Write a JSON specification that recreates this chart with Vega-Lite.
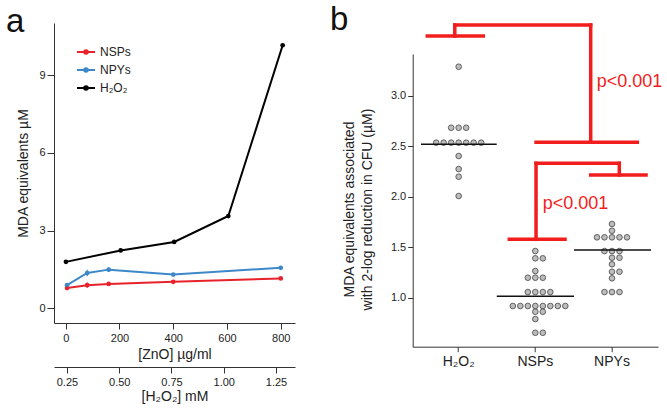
{
  "$schema": "https://vega.github.io/schema/vega-lite/v6.json",
  "padding": {"left": 6, "top": 4, "right": 5, "bottom": 5},
  "background": "white",
  "config": {
    "font": "Liberation Sans",
    "view": {"stroke": null},
    "axis": {"grid": false, "domainColor": "#333333", "tickColor": "#333333", "labelColor": "#222222", "titleColor": "#222222", "labelFont": "Liberation Sans", "titleFont": "Liberation Sans", "titleFontWeight": "normal", "labelFontSize": 11, "titleFontSize": 14, "domainWidth": 1, "tickWidth": 1},
    "title": {"fontWeight": "normal", "font": "Liberation Sans", "color": "#111111"}
  },
  "bounds": "flush",
  "spacing": 117.7,
  "hconcat": [
    {
      "width": 241,
      "height": 300,
      "title": {"text": "a", "anchor": "start", "frame": "group", "fontSize": 33, "offset": 0, "dx": -48, "dy": 42, "baseline": "alphabetic"},
      "layer": [
        {
          "data": {"values": [
            {"series": "NSPs", "zno": 5, "mda": 0.78, "lo": 0.69, "hi": 0.87},
            {"series": "NSPs", "zno": 80, "mda": 0.89, "lo": 0.79, "hi": 0.99},
            {"series": "NSPs", "zno": 160, "mda": 0.94, "lo": 0.9, "hi": 0.98},
            {"series": "NSPs", "zno": 400, "mda": 1.02, "lo": 0.99, "hi": 1.05},
            {"series": "NSPs", "zno": 800, "mda": 1.15, "lo": 1.1, "hi": 1.2},
            {"series": "NPYs", "zno": 5, "mda": 0.89, "lo": 0.84, "hi": 0.94},
            {"series": "NPYs", "zno": 80, "mda": 1.36, "lo": 1.23, "hi": 1.49},
            {"series": "NPYs", "zno": 160, "mda": 1.49, "lo": 1.41, "hi": 1.57},
            {"series": "NPYs", "zno": 400, "mda": 1.3, "lo": 1.27, "hi": 1.33},
            {"series": "NPYs", "zno": 800, "mda": 1.56, "lo": 1.53, "hi": 1.59}
          ]},
          "encoding": {
            "x": {"field": "zno", "type": "quantitative", "scale": {"domain": [-43.5, 853], "nice": false, "zero": false}, "axis": {"orient": "bottom", "values": [0, 200, 400, 600, 800], "title": "[ZnO] µg/ml", "tickSize": 6, "labelPadding": 3, "titlePadding": 4}},
            "y": {"field": "mda", "type": "quantitative", "scale": {"domain": [-0.57, 11.01], "nice": false, "zero": false}, "axis": {"values": [0, 3, 6, 9], "title": "MDA equivalents µM", "tickSize": 7, "labelPadding": 2, "titlePadding": 8}},
            "color": {"field": "series", "type": "nominal", "scale": {"domain": ["NSPs", "NPYs", "H₂O₂"], "range": ["#e8222b", "#3d88c8", "#000000"]}, "legend": {"title": null, "orient": "none", "legendX": 22, "legendY": 19, "symbolType": "M-1,0L1,0M-0.2,0A0.2,0.2,0,1,1,0.2,0A0.2,0.2,0,1,1,-0.2,0", "symbolSize": 324, "symbolStrokeWidth": 2, "labelFontSize": 12, "labelOffset": 4, "rowPadding": 2, "labelFont": "Liberation Sans", "labelColor": "#222222"}}
          },
          "layer": [
            {"mark": {"type": "line", "strokeWidth": 2}},
            {"mark": {"type": "point", "filled": true, "size": 22, "opacity": 1}},
            {"transform": [{"filter": "isValid(datum.lo)"}], "mark": {"type": "rule", "strokeWidth": 1.2}, "encoding": {"y": {"field": "lo", "type": "quantitative"}, "y2": {"field": "hi"}}}
          ]
        },
        {
          "data": {"values": [
            {"series": "H₂O₂", "h2o2": 0.245, "mda": 1.79, "lo": 1.75, "hi": 1.83},
            {"series": "H₂O₂", "h2o2": 0.507, "mda": 2.23, "lo": 2.19, "hi": 2.27},
            {"series": "H₂O₂", "h2o2": 0.763, "mda": 2.56, "lo": 2.52, "hi": 2.6},
            {"series": "H₂O₂", "h2o2": 1.022, "mda": 3.56, "lo": 3.47, "hi": 3.65},
            {"series": "H₂O₂", "h2o2": 1.282, "mda": 10.15, "lo": 10.1, "hi": 10.2}
          ]},
          "encoding": {
            "x": {"field": "h2o2", "type": "quantitative", "scale": {"domain": [0.188, 1.341], "nice": false, "zero": false}, "axis": {"orient": "bottom", "offset": 44, "values": [0.25, 0.5, 0.75, 1, 1.25], "format": ".2f", "title": "[H₂O₂] mM", "tickSize": 6, "labelPadding": 3, "titlePadding": 2}},
            "y": {"field": "mda", "type": "quantitative"},
            "color": {"field": "series", "type": "nominal"}
          },
          "layer": [
            {"mark": {"type": "line", "strokeWidth": 2}},
            {"mark": {"type": "point", "filled": true, "size": 22, "opacity": 1}},
            {"mark": {"type": "rule", "strokeWidth": 1.2}, "encoding": {"y": {"field": "lo", "type": "quantitative"}, "y2": {"field": "hi"}}}
          ]
        }
      ],
      "resolve": {"scale": {"x": "independent"}, "axis": {"x": "independent"}}
    },
    {
      "width": 245.3,
      "height": 323.7,
      "title": {"text": "b", "anchor": "start", "frame": "group", "fontSize": 33, "offset": 0, "dx": -82.7, "dy": 40.6, "baseline": "alphabetic"},
      "layer": [
        {
          "data": {"values": [
            {"grp": "H₂O₂", "s": 0, "v": 3.287},
            {"grp": "H₂O₂", "s": -1, "v": 2.683}, {"grp": "H₂O₂", "s": 0, "v": 2.683}, {"grp": "H₂O₂", "s": 1, "v": 2.683},
            {"grp": "H₂O₂", "s": -3, "v": 2.535}, {"grp": "H₂O₂", "s": -2, "v": 2.535}, {"grp": "H₂O₂", "s": -1, "v": 2.535}, {"grp": "H₂O₂", "s": 0, "v": 2.535}, {"grp": "H₂O₂", "s": 1, "v": 2.535}, {"grp": "H₂O₂", "s": 2, "v": 2.535}, {"grp": "H₂O₂", "s": 3, "v": 2.535},
            {"grp": "H₂O₂", "s": 0, "v": 2.403},
            {"grp": "H₂O₂", "s": 0, "v": 2.274},
            {"grp": "H₂O₂", "s": 0, "v": 2.198},
            {"grp": "H₂O₂", "s": 0, "v": 2.007},
            {"grp": "NSPs", "s": 0, "v": 1.462},
            {"grp": "NSPs", "s": 0, "v": 1.39}, {"grp": "NSPs", "s": 1, "v": 1.39},
            {"grp": "NSPs", "s": 0, "v": 1.264},
            {"grp": "NSPs", "s": -1, "v": 1.198}, {"grp": "NSPs", "s": 0, "v": 1.198}, {"grp": "NSPs", "s": 1, "v": 1.198},
            {"grp": "NSPs", "s": -1, "v": 1.056}, {"grp": "NSPs", "s": 0, "v": 1.056}, {"grp": "NSPs", "s": 1, "v": 1.056}, {"grp": "NSPs", "s": 2, "v": 1.056},
            {"grp": "NSPs", "s": -3, "v": 0.918}, {"grp": "NSPs", "s": -2, "v": 0.918}, {"grp": "NSPs", "s": -1, "v": 0.918}, {"grp": "NSPs", "s": 0, "v": 0.918}, {"grp": "NSPs", "s": 1, "v": 0.918}, {"grp": "NSPs", "s": 2, "v": 0.918}, {"grp": "NSPs", "s": 3, "v": 0.918}, {"grp": "NSPs", "s": 4, "v": 0.918},
            {"grp": "NSPs", "s": 0, "v": 0.861}, {"grp": "NSPs", "s": 1, "v": 0.861},
            {"grp": "NSPs", "s": 0, "v": 0.789},
            {"grp": "NSPs", "s": 0, "v": 0.653}, {"grp": "NSPs", "s": 1, "v": 0.653},
            {"grp": "NPYs", "s": 0, "v": 1.73},
            {"grp": "NPYs", "s": 0, "v": 1.663},
            {"grp": "NPYs", "s": -2, "v": 1.598}, {"grp": "NPYs", "s": -1, "v": 1.598}, {"grp": "NPYs", "s": 0, "v": 1.598}, {"grp": "NPYs", "s": 1, "v": 1.598}, {"grp": "NPYs", "s": 2, "v": 1.598},
            {"grp": "NPYs", "s": -1, "v": 1.462}, {"grp": "NPYs", "s": 0, "v": 1.462}, {"grp": "NPYs", "s": 1, "v": 1.462},
            {"grp": "NPYs", "s": 0, "v": 1.396}, {"grp": "NPYs", "s": 1, "v": 1.396},
            {"grp": "NPYs", "s": 0, "v": 1.331},
            {"grp": "NPYs", "s": 0, "v": 1.257}, {"grp": "NPYs", "s": 1, "v": 1.257},
            {"grp": "NPYs", "s": 0, "v": 1.192},
            {"grp": "NPYs", "s": -1, "v": 1.056}, {"grp": "NPYs", "s": 0, "v": 1.056}, {"grp": "NPYs", "s": 1, "v": 1.056}
          ]},
          "mark": {"type": "circle", "size": 32, "fill": "#bdbdbd", "stroke": "#444444", "strokeWidth": 0.8, "opacity": 1},
          "encoding": {
            "x": {"field": "grp", "type": "nominal", "sort": null, "scale": {"type": "band", "domain": ["H₂O₂", "NSPs", "NPYs"], "paddingInner": 0, "paddingOuter": 0.1}, "axis": {"title": null, "labelAngle": 0, "tickSize": 5, "labelFontSize": 14, "labelPadding": 3}},
            "xOffset": {"field": "s", "type": "quantitative", "scale": {"domain": [-4, 4], "range": [8.3, 68.3]}},
            "y": {"field": "v", "type": "quantitative", "scale": {"domain": [0.515, 3.413], "range": [323.7, 31], "nice": false, "zero": false}, "axis": {"values": [1, 1.5, 2, 2.5, 3], "format": ".1f", "title": ["MDA equivalents associated", "with 2-log reduction in CFU (µM)"], "titleLineHeight": 18, "tickSize": 5, "labelPadding": 2, "titlePadding": 16, "titleY": 186}}
          }
        },
        {
          "data": {"values": [
            {"lo": 0.504, "hi": 1.492, "v": 2.52},
            {"lo": 1.492, "hi": 2.5, "v": 1.014},
            {"lo": 2.5, "hi": 3.505, "v": 1.472}
          ]},
          "mark": {"type": "rule", "stroke": "#111111", "strokeWidth": 1.6},
          "encoding": {
            "x": {"field": "lo", "type": "quantitative", "scale": {"domain": [0.396, 3.596], "nice": false, "zero": false}, "axis": null},
            "x2": {"field": "hi"},
            "y": {"field": "v", "type": "quantitative"}
          }
        },
        {
          "data": {"values": [
            {"x1": 0.945, "x2": 2.718, "y1": 3.7, "y2": 3.7},
            {"x1": 0.945, "x2": 0.945, "y1": 3.7, "y2": 3.591},
            {"x1": 0.586, "x2": 1.317, "y1": 3.591, "y2": 3.591},
            {"x1": 2.718, "x2": 2.718, "y1": 3.7, "y2": 2.539},
            {"x1": 2.005, "x2": 3.326, "y1": 2.539, "y2": 2.539},
            {"x1": 2.005, "x2": 3.091, "y1": 2.331, "y2": 2.331},
            {"x1": 2.005, "x2": 2.005, "y1": 2.331, "y2": 1.578},
            {"x1": 1.656, "x2": 2.383, "y1": 1.578, "y2": 1.578},
            {"x1": 3.091, "x2": 3.091, "y1": 2.331, "y2": 2.215},
            {"x1": 2.718, "x2": 3.44, "y1": 2.215, "y2": 2.215}
          ]},
          "mark": {"type": "rule", "stroke": "#f21d1d", "strokeWidth": 3.5, "strokeCap": "square"},
          "encoding": {
            "x": {"field": "x1", "type": "quantitative", "scale": {"domain": [0.396, 3.596], "nice": false, "zero": false}, "axis": null},
            "x2": {"field": "x2"},
            "y": {"field": "y1", "type": "quantitative"},
            "y2": {"field": "y2"}
          }
        },
        {
          "data": {"values": [
            {"px": 2.797, "py": 3.139, "label": "p<0.001"},
            {"px": 2.092, "py": 1.928, "label": "p<0.001"}
          ]},
          "mark": {"type": "text", "align": "left", "baseline": "middle", "fontSize": 18, "color": "#f21d1d", "font": "Liberation Sans"},
          "encoding": {
            "x": {"field": "px", "type": "quantitative", "scale": {"domain": [0.396, 3.596], "nice": false, "zero": false}, "axis": null},
            "y": {"field": "py", "type": "quantitative"},
            "text": {"field": "label"}
          }
        }
      ],
      "resolve": {"scale": {"x": "independent"}}
    }
  ]
}
